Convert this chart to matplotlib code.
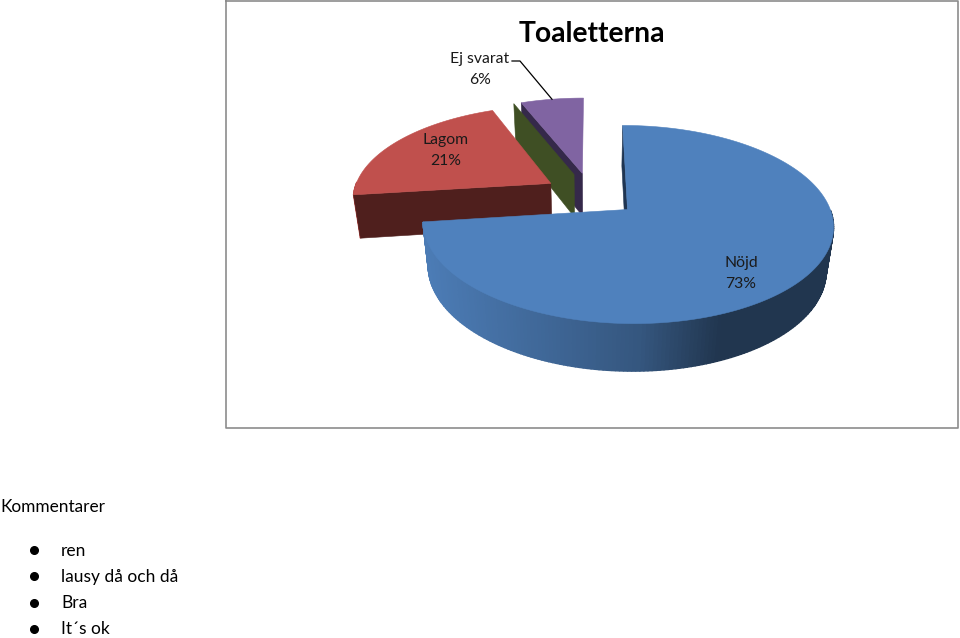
import numpy as np
import matplotlib
matplotlib.use("Agg")
import matplotlib.pyplot as plt

plt.rcParams["font.family"] = ["Lato", "DejaVu Sans"]

# chart data
labels = ["Nöjd", "Lagom", "", "Ej svarat"]
percent = [73, 21, 0, 6]
top_colors = ["#4F81BD", "#C0504D", "#9BBB59", "#8064A2"]
side_colors = ["#1F3552", "#4F1F1D", "#3F4F24", "#35294A"]
comments = ["ren", "lausy då och då", "Bra", "It´s ok"]

# 3d view of the pie, fitted by eye (screen pixels)
CX, CY = 591, 194.5
SX, SY = 198, 92.3
DEPTH = 44.7
PERSP_Y, PERSP_Z = 0.148, 0.03
EXPLODE = 0.24


def project(x, y, z):
    w = 1 + PERSP_Y * y + PERSP_Z * z
    return CX + SX * x / w, CY - SY * y / w + DEPTH * z / w


def to_rgb(color, factor):
    return tuple(c * factor for c in matplotlib.colors.to_rgb(color))


def side_shade(x):
    # the rim gets darker towards the right
    return np.interp(x, [425, 640, 720, 835], [0.96, 0.67, 0.42, 0.42])


def draw_slice(ax, start, stop, top_color, side_color):
    mid = np.radians((start + stop) / 2)
    ax_x = EXPLODE * np.sin(mid)
    ax_y = EXPLODE * np.cos(mid)
    angles = np.radians(np.linspace(start, stop, max(int(stop - start), 2)))
    rim_x = ax_x + np.sin(angles)
    rim_y = ax_y + np.cos(angles)

    # outer rim, only the part turned to the viewer
    for i in range(len(angles) - 1):
        if np.cos(angles[i]) >= 0 or stop == start:
            continue
        x0, y0 = project(rim_x[i], rim_y[i], 0)
        x1, y1 = project(rim_x[i + 1], rim_y[i + 1], 0)
        x2, y2 = project(rim_x[i + 1], rim_y[i + 1], 1)
        x3, y3 = project(rim_x[i], rim_y[i], 1)
        col = to_rgb(top_color, side_shade((x0 + x1) / 2))
        ax.fill([x0, x1, x2, x3], [y0, y1, y2, y3], color=col, lw=1.0, zorder=2)

    # cut face at the start of the wedge
    a = np.radians(start)
    ox, oy = ax_x + np.sin(a), ax_y + np.cos(a)
    pts = [project(ax_x, ax_y, 0), project(ox, oy, 0), project(ox, oy, 1), project(ax_x, ax_y, 1)]
    ax.fill([p[0] for p in pts], [p[1] for p in pts], color=side_color, lw=0.4, zorder=2)

    # top of the wedge
    if stop > start:
        tx, ty = project(np.r_[ax_x, rim_x], np.r_[ax_y, rim_y], 0)
        ax.fill(tx, ty, color=top_color, lw=0.4, zorder=2)


fig = plt.figure(figsize=(9.6, 6.38), dpi=100)
ax = fig.add_axes([0, 0, 1, 1])
ax.set_xlim(0, 960)
ax.set_ylim(638, 0)
ax.axis("off")

# chart frame
ax.plot([225.5, 958, 958, 225.5, 225.5], [0.5, 0.5, 428, 428, 0.5], color="#8C8C8C", lw=1.2, zorder=1)

# wedges run clockwise from twelve o'clock, back ones are painted first
stops = np.cumsum(percent) * 3.6
starts = stops - np.array(percent) * 3.6
for i in [3, 2, 1, 0]:
    draw_slice(ax, starts[i], stops[i], top_colors[i], side_colors[i])

# leader line for the small slice
mid = np.radians((starts[3] + stops[3]) / 2)
lx, ly = project((1 + EXPLODE) * np.sin(mid), (1 + EXPLODE) * np.cos(mid), 0)
ax.plot([512, 520, lx], [61, 61, ly], color="black", lw=0.9, zorder=3)

ax.text(591.5, 34.5, "Toaletterna", fontsize=20.3, fontweight="bold", ha="center", va="center", color="black")
label_pos = {0: (741, 263), 1: (446, 140), 3: (480, 59)}
for i, (x, y) in label_pos.items():
    ax.text(x, y, labels[i], fontsize=11.3, ha="center", va="center", color="#1A1A1A", zorder=4)
    ax.text(x, y + 21, f"{percent[i]}%", fontsize=11.3, ha="center", va="center", color="#1A1A1A", zorder=4)

ax.text(0, 507, "Kommentarer", fontsize=12.4, ha="left", va="center", color="black")
for i, text in enumerate(comments):
    y = 550 + 26.3 * i
    ax.plot([34], [y], "o", color="black", ms=5.5, zorder=3)
    ax.text(61, y + 0.5, text, fontsize=12.5, ha="left", va="center", color="black")

fig.savefig("out.png", dpi=100)
